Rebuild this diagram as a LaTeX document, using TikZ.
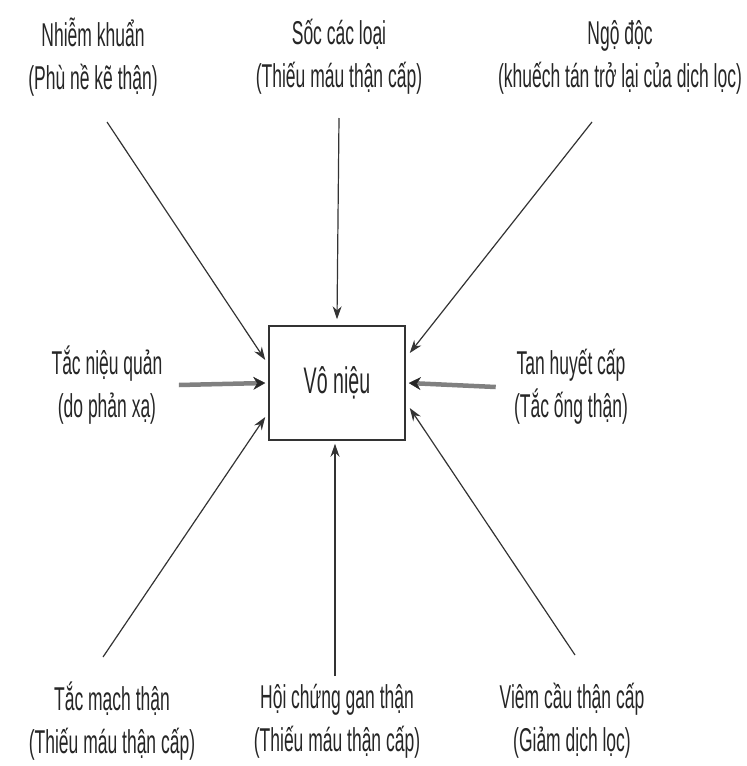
\documentclass[tikz,border=0pt]{standalone}
\usepackage{fontspec}
\setmainfont[FakeStretch=0.53]{Liberation Sans}
\usepackage{tikz}
\usetikzlibrary{arrows.meta, positioning, calc}

\begin{document}
\begin{tikzpicture}[x=1pt, y=-1pt, thick]
        \tikzstyle{cause} = [align=center, inner sep=0pt, font=\fontsize{33}{43}\selectfont, text=black!85]
        \tikzstyle{outcome} = [rectangle, minimum width=136pt, minimum height=114pt, text centered, draw=black!80, line width=1.5pt, font=\fontsize{37}{40}\selectfont, text=black!85]
        \tikzstyle{arrow} = [line width=1.2pt, draw=black!80, -{Stealth[length=13pt, width=9pt]}]
        \tikzstyle{widearrow} = [line width=4.5pt, draw=black!50, -{Stealth[length=12pt, width=13pt, line width=0.5pt, black!85]}]

        \useasboundingbox (0,0) rectangle (747,766);

        \node (vo) [outcome] at (337,383) {Vô niệu};

        \node (nk) [cause] at (93,57) {Nhiễm khuẩn\\(Phù nề kẽ thận)};
        \node (soc) [cause] at (339,57) {Sốc các loại\\(Thiếu máu thận cấp)};
        \node (ngo) [cause] at (620,57) {Ngộ độc\\(khuếch tán trở lại của dịch lọc)};

        \node (tnq) [cause] at (107,385) {Tắc niệu quản\\(do phản xạ)};
        \node (thc) [cause] at (571,387) {Tan huyết cấp\\(Tắc ống thận)};

        \node (tmt) [cause] at (112,721) {Tắc mạch thận\\(Thiếu máu thận cấp)};
        \node (hcg) [cause] at (337,721) {Hội chứng gan thận\\(Thiếu máu thận cấp)};
        \node (vct) [cause] at (572,721) {Viêm cầu thận cấp\\(Giảm dịch lọc)};

        \draw [arrow] ($(nk.center)+(14,65)$) -- ($(vo.west)+(-3,-23)$);
        \draw [arrow] (soc.center |- 0,118) -- ($(vo.north)+(0,-6)$);
        \draw [arrow] ($(ngo.center)+(-28,65)$) -- ($(vo.east)+(4,-30)$);

        \draw [widearrow] ($(tnq.east)+(16,0)$ |- vo.west) -- ($(vo.west)+(-3,0)$);
        \draw [widearrow] ($(thc.west)+(-18,0)$ |- vo.east) -- ($(vo.east)+(3,0)$);

        \draw [arrow] ($(tmt.center)+(-9,-64)$) -- ($(vo.west)+(-3,34)$);
        \draw [arrow] ($(hcg.center)+(-2,-45)$) -- ($(vo.south)+(-2,3)$);
        \draw [arrow] ($(vct.center)+(3,-66)$) -- ($(vo.east)+(4,25)$);
\end{tikzpicture}
\end{document}
